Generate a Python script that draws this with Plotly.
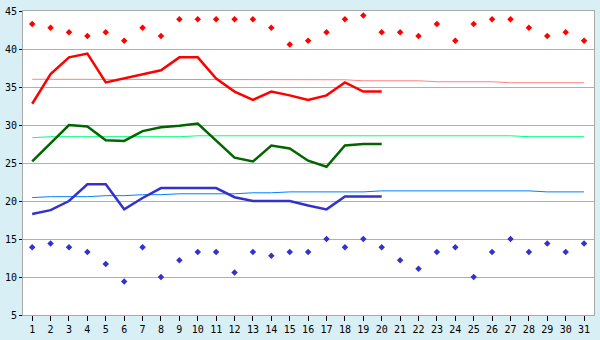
import plotly.graph_objects as go

days = list(range(1, 32))
days_obs = list(range(1, 21))

record_max = [43.3, 42.8, 42.2, 41.7, 42.2, 41.1, 42.8, 41.7, 43.9, 43.9, 43.9, 43.9, 43.9, 42.8, 40.6, 41.1,
              42.2, 43.9, 44.4, 42.2, 42.2, 41.7, 43.3, 41.1, 43.3, 43.9, 43.9, 42.8, 41.7, 42.2, 41.1]
record_min = [13.9, 14.4, 13.9, 13.3, 11.7, 9.4, 13.9, 10.0, 12.2, 13.3, 13.3, 10.6, 13.3, 12.8, 13.3, 13.3,
              15.0, 13.9, 15.0, 13.9, 12.2, 11.1, 13.3, 13.9, 10.0, 13.3, 15.0, 13.3, 14.4, 13.3, 14.4]

obs_max = [32.8, 36.7, 38.9, 39.4, 35.6, 36.1, 36.7, 37.2, 38.9, 38.9, 36.1, 34.4, 33.3, 34.4, 33.9, 33.3,
           33.9, 35.6, 34.4, 34.4]
obs_mean = [25.2, 27.6, 30.0, 29.8, 28.0, 27.9, 29.2, 29.7, 29.9, 30.2, 28.0, 25.7, 25.2, 27.3, 26.9, 25.3,
            24.5, 27.3, 27.5, 27.5]
obs_min = [18.3, 18.8, 20.0, 22.2, 22.2, 18.9, 20.4, 21.7, 21.7, 21.7, 21.7, 20.5, 20.0, 20.0, 20.0, 19.4,
           18.9, 20.6, 20.6, 20.6]

normal_max = [36.02] * 9 + [35.95] * 9 + [35.82] * 4 + [35.69] * 4 + [35.56] * 5
normal_mean = [28.33] + [28.46] * 8 + [28.58] * 18 + [28.46] * 4
normal_min = [20.45, 20.57, 20.57, 20.57, 20.70, 20.70, 20.83, 20.83, 20.95, 20.95, 20.95, 20.95,
              21.08, 21.08, 21.2, 21.2, 21.2, 21.2, 21.2, 21.33, 21.33, 21.33, 21.33, 21.33, 21.33,
              21.33, 21.33, 21.33, 21.2, 21.2, 21.2]

y_ticks = [5, 10, 15, 20, 25, 30, 35, 40, 45]

fig = go.Figure()

# normals (thin)
fig.add_trace(go.Scatter(x=days, y=normal_max, mode="lines", line=dict(color="#FF8080", width=1)))
fig.add_trace(go.Scatter(x=days, y=normal_mean, mode="lines", line=dict(color="#00FF80", width=1)))
fig.add_trace(go.Scatter(x=days, y=normal_min, mode="lines", line=dict(color="#0080FF", width=1)))

# observed (thick)
fig.add_trace(go.Scatter(x=days_obs, y=obs_max, mode="lines", line=dict(color="#FF0000", width=2.5)))
fig.add_trace(go.Scatter(x=days_obs, y=obs_mean, mode="lines", line=dict(color="#006600", width=2.5)))
fig.add_trace(go.Scatter(x=days_obs, y=obs_min, mode="lines", line=dict(color="#3333CC", width=2.5)))

# records
fig.add_trace(go.Scatter(x=days, y=record_max, mode="markers",
                         marker=dict(symbol="diamond", size=5, color="#FF0000")))
fig.add_trace(go.Scatter(x=days, y=record_min, mode="markers",
                         marker=dict(symbol="diamond", size=5, color="#3333CC")))

axis_font = dict(family="DejaVu Sans Mono", size=10, color="#000000")

fig.update_layout(
    width=600, height=340,
    margin=dict(l=20, r=5, t=5, b=20),
    paper_bgcolor="#D9EFF6",
    plot_bgcolor="#FFFFFF",
    showlegend=False,
    xaxis=dict(
        range=[0.5, 31.54], tickmode="array", tickvals=days, ticktext=[str(d) for d in days],
        showgrid=False, zeroline=False,
        showline=True, linecolor="#A8A8A8", linewidth=1, mirror=True,
        ticks="outside", ticklen=5, tickcolor="#000000", tickwidth=1,
        tickfont=axis_font,
    ),
    yaxis=dict(
        range=[5, 45], tickmode="array", tickvals=y_ticks,
        showgrid=True, gridcolor="#B0B0B0", gridwidth=1, zeroline=False,
        showline=True, linecolor="#A8A8A8", linewidth=1, mirror=True,
        ticks="outside", ticklen=3, tickcolor="#000000", tickwidth=1,
        tickfont=axis_font,
    ),
)

fig.write_html("out.html")
